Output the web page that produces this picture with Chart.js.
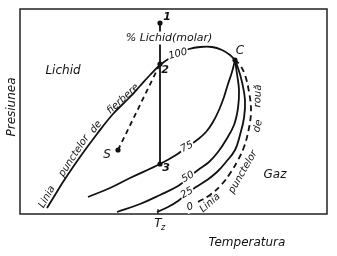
<!DOCTYPE html>
<html>
<head>
<meta charset="utf-8">
<script src="https://cdn.jsdelivr.net/npm/chart.js@4.4.1/dist/chart.umd.min.js"></script>
<style>
  html, body { margin: 0; padding: 0; background: #fff; }
  #wrap { width: 337px; height: 256px; position: relative; }
</style>
</head>
<body>
<div id="wrap"><canvas id="chart"></canvas></div>
<script>
// [temperature, pressure] in arbitrary units (axes have no scale)
const bubbleLine = [[27,6],[35,19],[43,32],[60,57],[77,80],[93,100],[110,117],[120,128],[130,139],[140,149],[150,156],[160,161],[169,165],[180,167],[192,167],[202,164],[210,159],[215,154]];
const iso75 = [[68,17],[90,26],[110,36],[140,50],[156,59],[167,67],[177,74],[186,82],[193,92],[199,104],[204,117],[208,130],[212,142],[215,154]];
const iso50 = [[97,2],[120,10],[140,19],[158,28],[168,36],[178,44],[189,52],[198,62],[206,74],[214,89],[218,106],[219,124],[217,140],[215,154]];
const iso25 = [[137,2],[148,7],[158,13],[166,20],[176,27],[187,34],[197,42],[206,52],[215,64],[220,79],[224,96],[225,114],[222,132],[218,146],[215,154]];
const dewLine = [[178,12],[190,19],[202,30],[211,42],[218,54],[224,67],[229,86],[231,104],[229,122],[225,139],[220,149],[215,154]];
const isothermLine = [[140,191],[140,50]];   // 1 -> 3 at T_z
const sLine = [[98,64],[140,150]];
const statePoints = [[140,191],[140,150],[140,50],[98,64],[215,154]];
const stateNames = ['1', '2', '3', 'S', 'C'];
const isoNames = ['100', '75', '50', '25', '0'];
const tz = 138;

const FONT = '"DejaVu Sans", sans-serif';
const toXY = arr => arr.map(p => ({x: p[0], y: p[1]}));

function curve(data, dashed) {
    return {
        data: toXY(data),
        showLine: true,
        borderColor: '#111',
        borderWidth: 1.8,
        borderDash: dashed ? [6, 4] : [],
        tension: 0.4,
        pointRadius: 0,
        fill: false
    };
}

// text drawn in data coordinates: [text, x, y, angle, size, weight, whiteBg]
const labels = [
    [stateNames[0], 147, 197, 0, 11, 'bold', false],
    [stateNames[1], 145, 144, 0, 11, 'bold', false],
    [stateNames[2], 146, 46, 0, 11, 'bold', false],
    [stateNames[3], 87, 59, 0, 12, 'normal', false],
    [stateNames[4], 220, 163, 0, 12, 'normal', false],
    [isoNames[0], 158, 160, -15, 10, 'normal', true],
    [isoNames[1], 167, 67, -28, 10, 'normal', true],
    [isoNames[2], 168, 37, -30, 10, 'normal', true],
    [isoNames[3], 167, 21, -30, 10, 'normal', true],
    [isoNames[4], 170, 7, -20, 10, 'normal', true],
    ['% Lichid(molar)', 149, 176, 0, 11, 'normal', true],
    ['Lichid', 43, 143, 0, 12, 'normal', false],
    ['Gaz', 255, 39, 0, 12, 'normal', false],
    ['Linia', 27, 17, -61, 10, 'normal', false],
    ['punctelor', 54, 58, -57, 10, 'normal', false],
    ['de', 76, 87, -50, 10, 'normal', false],
    ['fierbere', 103, 115, -43, 10, 'normal', false],
    ['Linia', 190, 11, -42, 10, 'normal', false],
    ['punctelor', 223, 42, -60, 10, 'normal', false],
    ['de', 238, 88, -76, 10, 'normal', false],
    ['rouă', 238, 118, -88, 10, 'normal', false],
    ['Presiunea', -8, 107, -90, 12, 'normal', false],
    ['Temperatura', 227, -29, 0, 12, 'normal', false]
];

const diagramDecor = {
    id: 'diagramDecor',
    beforeDatasetsDraw(chart) {
        const {ctx, chartArea: a} = chart;
        ctx.save();
        ctx.strokeStyle = '#222';
        ctx.lineWidth = 1.5;
        ctx.strokeRect(a.left, a.top, a.right - a.left, a.bottom - a.top);
        ctx.restore();
    },
    afterDatasetsDraw(chart) {
        const {ctx, scales: {x, y}} = chart;
        ctx.save();
        ctx.fillStyle = '#111';
        ctx.textAlign = 'center';
        ctx.textBaseline = 'middle';
        labels.forEach(([txt, dx, dy, ang, size, weight, bg]) => {
            const px = x.getPixelForValue(dx);
            const py = y.getPixelForValue(dy);
            ctx.save();
            ctx.translate(px, py);
            ctx.rotate(ang * Math.PI / 180);
            ctx.font = 'italic ' + weight + ' ' + size + 'px ' + FONT;
            if (bg) {
                const w = ctx.measureText(txt).width;
                ctx.fillStyle = '#fff';
                ctx.fillRect(-w / 2 - 1, -size / 2 - 1, w + 2, size + 2);
                ctx.fillStyle = '#111';
            }
            ctx.fillText(txt, 0, 0);
            ctx.restore();
        });

        // T_z mark on the temperature axis
        const tx = x.getPixelForValue(tz);
        const ty = y.getPixelForValue(0);
        ctx.strokeStyle = '#111';
        ctx.lineWidth = 1.2;
        ctx.beginPath();
        ctx.moveTo(tx, ty);
        ctx.lineTo(tx, ty - 5);
        ctx.stroke();
        ctx.font = 'italic 12px ' + FONT;
        ctx.fillText('T', tx, ty + 10);
        ctx.font = 'italic 8px ' + FONT;
        ctx.fillText('z', tx + 5, ty + 14);
        ctx.restore();
    }
};

new Chart(document.getElementById('chart'), {
    type: 'scatter',
    data: {
        datasets: [
            curve(bubbleLine, false),
            curve(iso75, false),
            curve(iso50, false),
            curve(iso25, false),
            curve(dewLine, true),
            Object.assign(curve(isothermLine, false), {tension: 0}),
            Object.assign(curve(sLine, true), {tension: 0, borderDash: [5, 4]}),
            {
                data: toXY(statePoints),
                showLine: false,
                pointRadius: 2.6,
                pointBackgroundColor: '#111',
                pointBorderWidth: 0
            }
        ]
    },
    options: {
        responsive: true,
        maintainAspectRatio: false,
        animation: false,
        layout: {padding: {left: 20, top: 9, right: 10, bottom: 42}},
        scales: {
            x: {type: 'linear', min: 0, max: 307, display: false},
            y: {type: 'linear', min: 0, max: 205, display: false}
        },
        plugins: {
            legend: {display: false},
            tooltip: {enabled: false}
        }
    },
    plugins: [diagramDecor]
});
</script>
</body>
</html>
